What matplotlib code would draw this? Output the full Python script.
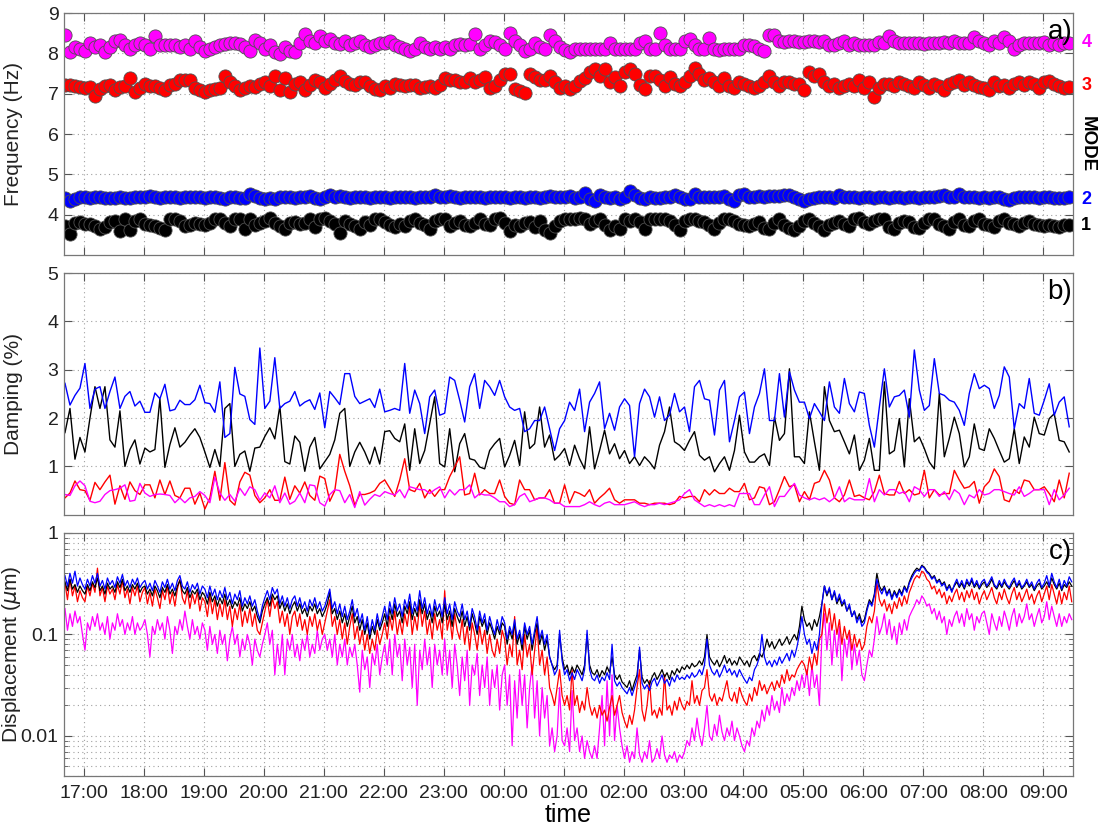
import matplotlib
matplotlib.use('Agg')
import matplotlib.pyplot as plt
import matplotlib.dates as mdates
import matplotlib.ticker as mticker
import pandas as pd

plt.rcParams['font.family'] = ['Liberation Sans', 'DejaVu Sans']
plt.rcParams['mathtext.fontset'] = 'dejavusans'

# modal estimates every 5 minutes (16:41 -> 09:26), displacement every 2.5 minutes
times = pd.date_range('2013-01-01 16:41', periods=202, freq='5min').to_pydatetime()
times_c = pd.date_range('2013-01-01 16:41', periods=404, freq='150s').to_pydatetime()
t_start = pd.Timestamp('2013-01-01 16:40').to_pydatetime()
t_end = pd.Timestamp('2013-01-02 09:30').to_pydatetime()

mode_colors = ['#000000', '#0000ff', '#ff0000', '#ff00ff']
mode_names = ['1', '2', '3', '4']

# --- a) frequency (Hz) ---
freq_1 = [3.72, 3.51, 3.8, 3.82, 3.78, 3.78, 3.72, 3.65, 3.7, 3.82, 3.85, 3.6, 3.88, 3.62, 3.85, 3.9,
          3.78, 3.75, 3.72, 3.68, 3.62, 3.88, 3.9, 3.85, 3.72, 3.75, 3.8, 3.78, 3.75, 3.8, 3.88, 3.9,
          3.8, 3.72, 3.88, 3.9, 3.65, 3.88, 3.75, 3.8, 3.85, 3.92, 3.8, 3.72, 3.65, 3.8, 3.82, 3.78,
          3.8, 3.9, 3.7, 3.88, 3.92, 3.85, 3.78, 3.55, 3.85, 3.78, 3.72, 3.65, 3.82, 3.75, 3.88, 3.9,
          3.82, 3.75, 3.7, 3.78, 3.72, 3.85, 3.88, 3.8, 3.75, 3.65, 3.85, 3.9,
          3.88, 3.72, 3.8, 3.85, 3.75, 3.72, 3.8, 3.88, 3.78, 3.75, 3.9, 3.92,
          3.8, 3.6, 3.75, 3.72, 3.8, 3.82, 3.7, 3.85, 3.62, 3.55, 3.72, 3.85,
          3.9, 3.88, 3.9, 3.92, 3.88, 3.78, 3.85, 3.9, 3.75, 3.62, 3.72, 3.65,
          3.9, 3.85, 3.88, 3.82, 3.65, 3.88, 3.9, 3.88, 3.9, 3.85, 3.75, 3.62,
          3.85, 3.88, 3.88, 3.85, 3.82, 3.75, 3.65, 3.8, 3.88, 3.9, 3.85, 3.78, 3.75, 3.72,
          3.78, 3.82, 3.68, 3.65, 3.8, 3.88, 3.75, 3.68, 3.62, 3.72, 3.85, 3.9,
          3.8, 3.72, 3.62, 3.75, 3.8, 3.85, 3.78, 3.72, 3.88, 3.92, 3.82, 3.78,
          3.85, 3.9, 3.88, 3.7, 3.65, 3.8, 3.85, 3.82, 3.7, 3.68, 3.8, 3.88,
          3.9, 3.78, 3.72, 3.65, 3.82, 3.88, 3.75, 3.72, 3.85, 3.88, 3.78, 3.75,
          3.7, 3.85, 3.88, 3.8, 3.78, 3.72, 3.8, 3.85, 3.78, 3.75, 3.72, 3.75, 3.72, 3.7, 3.75, 3.75]
freq_2 = [4.42, 4.35, 4.4, 4.43, 4.44, 4.42, 4.43, 4.44, 4.42, 4.42, 4.41, 4.43, 4.42, 4.42, 4.44, 4.43,
          4.44, 4.46, 4.43, 4.42, 4.44, 4.45, 4.43, 4.42, 4.44, 4.45, 4.43, 4.44, 4.42, 4.43, 4.44, 4.42,
          4.4, 4.43, 4.44, 4.42, 4.41, 4.5, 4.46, 4.42, 4.38, 4.42, 4.38, 4.43, 4.44, 4.43, 4.42, 4.44,
          4.45, 4.46, 4.42, 4.38, 4.43, 4.48, 4.45, 4.46, 4.44, 4.42, 4.44, 4.45, 4.43, 4.42, 4.44, 4.43,
          4.43, 4.42, 4.44, 4.43, 4.45, 4.43, 4.42, 4.44, 4.43, 4.45, 4.48, 4.44,
          4.43, 4.46, 4.44, 4.42, 4.44, 4.43, 4.45, 4.44, 4.42, 4.43, 4.44, 4.45,
          4.44, 4.42, 4.43, 4.44, 4.42, 4.43, 4.44, 4.42, 4.43, 4.46, 4.44, 4.45,
          4.43, 4.47, 4.42, 4.44, 4.53, 4.4, 4.35, 4.48, 4.45, 4.42, 4.44, 4.38,
          4.45, 4.58, 4.48, 4.42, 4.38, 4.43, 4.42, 4.41, 4.44, 4.43, 4.48, 4.45,
          4.4, 4.38, 4.52, 4.45, 4.43, 4.44, 4.43, 4.45, 4.46, 4.38, 4.35, 4.48, 4.5, 4.45,
          4.44, 4.46, 4.45, 4.47, 4.46, 4.47, 4.48, 4.48, 4.45, 4.38, 4.35, 4.4,
          4.42, 4.43, 4.45, 4.44, 4.42, 4.48, 4.44, 4.43, 4.44, 4.42, 4.43, 4.44,
          4.42, 4.43, 4.44, 4.42, 4.43, 4.44, 4.42, 4.43, 4.44, 4.42, 4.45, 4.44,
          4.43, 4.46, 4.48, 4.44, 4.43, 4.5, 4.45, 4.44, 4.43, 4.42, 4.44, 4.42,
          4.43, 4.45, 4.4, 4.36, 4.42, 4.44, 4.45, 4.43, 4.44, 4.42, 4.43, 4.44, 4.42, 4.42, 4.42, 4.43]
freq_3 = [7.22, 7.22, 7.2, 7.18, 7.15, 7.18, 6.95, 7.12, 7.2, 7.22, 7.1, 7.18,
          7.2, 7.38, 7.05, 7.15, 7.25, 7.2, 7.2, 7.15, 7.1, 7.22, 7.25, 7.33,
          7.35, 7.33, 7.15, 7.1, 7.05, 7.1, 7.12, 7.15, 7.45, 7.3, 7.2, 7.1,
          7.15, 7.2, 7.18, 7.25, 7.28, 7.2, 7.45, 7.1, 7.38, 7.05, 7.25, 7.3,
          7.1, 7.22, 7.35, 7.3, 7.15, 7.25, 7.35, 7.43, 7.32, 7.25, 7.22, 7.28,
          7.3, 7.2, 7.12, 7.1,
          7.2, 7.15, 7.25, 7.22, 7.2, 7.22, 7.22, 7.15, 7.18, 7.2, 7.15, 7.22,
          7.4, 7.35, 7.33, 7.28, 7.3, 7.4, 7.3, 7.35, 7.42, 7.15, 7.2, 7.33,
          7.48, 7.5, 7.12, 7.08, 7.02, 7.48, 7.42, 7.35, 7.33, 7.45, 7.3, 7.15,
          7.2, 7.12, 7.2, 7.32, 7.4, 7.55, 7.62, 7.45, 7.62, 7.3, 7.42, 7.2,
          7.55, 7.62, 7.5, 7.22, 7.12, 7.45, 7.45, 7.35, 7.2, 7.42, 7.25, 7.2,
          7.3, 7.45, 7.65, 7.48, 7.35, 7.4, 7.3, 7.2, 7.38, 7.2, 7.15, 7.28, 7.25, 7.2,
          7.15, 7.2, 7.3, 7.45, 7.3, 7.2, 7.3, 7.28, 7.25, 7.25, 7.1, 7.55,
          7.45, 7.5, 7.3, 7.2, 7.25, 7.15, 7.2, 7.25, 7.2, 7.35, 7.15, 7.28,
          6.93, 7.15, 7.25, 7.25, 7.2, 7.3, 7.25, 7.2, 7.15, 7.3, 7.22, 7.15,
          7.25, 7.2, 7.1, 7.25, 7.3, 7.35, 7.22, 7.28, 7.22, 7.18, 7.15, 7.1,
          7.3, 7.2, 7.22, 7.15, 7.25, 7.3, 7.22, 7.3, 7.25, 7.15, 7.3, 7.32, 7.25, 7.2, 7.15, 7.18]
freq_4 = [8.46, 8.03, 8.15, 8.1, 8.06, 8.25, 8.15, 8.2, 8.03, 8.15, 8.3, 8.33, 8.22, 8.1, 8.2, 8.27,
          8.22, 8.1, 8.44, 8.2, 8.2, 8.22, 8.22, 8.15, 8.22, 8.1, 8.3, 8.15, 8.07, 8.1, 8.15, 8.2,
          8.24, 8.25, 8.25, 8.24, 8.15, 8.07, 8.33, 8.27, 8.1, 8.2, 8.03, 7.99, 8.15, 8.07, 8.03, 8.27,
          8.48, 8.32, 8.27, 8.44, 8.32, 8.35, 8.27, 8.24, 8.3, 8.22, 8.25, 8.3, 8.2, 8.15, 8.2, 8.25,
          8.27, 8.3, 8.2, 8.15, 8.1, 8.05, 8.12, 8.27, 8.15, 8.1, 8.17, 8.12,
          8.15, 8.1, 8.22, 8.24, 8.2, 8.24, 8.48, 8.1, 8.22, 8.3, 8.28, 8.2,
          8.1, 8.5, 8.32, 8.2, 8.05, 8.12, 8.25, 8.15, 8.1, 8.45, 8.3, 8.15,
          8.08, 8.03, 8.12, 8.12, 8.12, 8.1, 8.12, 8.12, 8.1, 8.25, 8.12, 8.1,
          8.12, 8.1, 8.12, 8.25, 8.3, 8.1, 8.12, 8.5, 8.2, 8.1, 8.12, 8.1,
          8.3, 8.35, 8.2, 8.1, 8.12, 8.38, 8.12, 8.08, 8.12, 8.12, 8.12, 8.12, 8.22, 8.2,
          8.18, 8.1, 8.07, 8.45, 8.45, 8.3, 8.28, 8.3, 8.3, 8.28, 8.28, 8.3,
          8.3, 8.28, 8.3, 8.22, 8.2, 8.25, 8.3, 8.2, 8.27, 8.22, 8.2, 8.22,
          8.22, 8.28, 8.25, 8.44, 8.3, 8.25, 8.25, 8.27, 8.25, 8.25, 8.24, 8.27,
          8.25, 8.25, 8.28, 8.25, 8.3, 8.27, 8.25, 8.25, 8.42, 8.3, 8.25, 8.22,
          8.3, 8.25, 8.4, 8.3, 8.1, 8.22, 8.25, 8.27, 8.25, 8.25, 8.28, 8.22, 8.27, 8.22, 8.27, 8.25]

# --- b) damping (%) ---
damp_1 = [1.7, 2.2, 1.15, 1.6, 1.3, 2.0, 2.65, 2.2, 2.65, 1.55, 1.4, 2.15, 1.0, 1.35, 1.55, 1.05,
          1.38, 1.3, 1.35, 2.4, 0.98, 1.45, 1.8, 1.4, 1.5, 1.65, 1.78, 1.6, 1.3, 0.98, 1.35, 1.0,
          2.2, 2.3, 1.0, 1.25, 1.32, 0.9, 1.38, 1.4, 1.62, 1.8, 1.57, 2.25, 1.1, 1.05, 1.63, 1.5,
          0.9, 1.4, 1.6, 0.95, 1.1, 1.25, 1.55, 2.1, 2.2, 1.0, 1.3, 1.5, 1.3, 1.05, 1.4, 1.05,
          1.72, 1.74, 1.58, 1.51, 1.88, 0.92, 1.78, 1.06, 1.33, 1.88, 2.44, 1.06, 0.99, 1.78, 0.89,
          1.47, 1.68, 1.16, 1.13, 0.99, 0.95, 1.33, 1.47, 1.58, 0.99, 1.23, 1.54, 1.02, 2.13, 1.37,
          1.47, 2.23, 1.4, 1.65, 1.13, 1.23, 1.37, 1.02, 1.44, 1.16, 0.95, 1.82, 0.95, 1.33, 1.75,
          1.26, 1.47, 1.16, 1.33, 1.06, 1.2, 1.02, 1.2, 1.09, 0.95, 1.44, 1.72, 2.23, 1.51, 1.44,
          1.33, 1.54, 1.72, 1.23, 1.13, 1.2, 0.89, 1.06, 1.2, 0.92, 1.33, 2.06, 1.3, 1.09,
          1.09, 1.2, 1.26, 1.02, 2.02, 1.54, 1.68, 3.02, 1.2, 1.2, 1.06, 2.13, 1.51, 0.92, 2.65,
          1.95, 1.72, 1.75, 1.51, 1.26, 1.65, 0.92, 1.13, 1.58, 0.92, 0.92, 2.75, 1.26, 1.33, 1.99,
          0.99, 2.4, 1.51, 1.61, 1.37, 1.09, 0.95, 2.51, 1.2, 1.58, 2.02, 1.68, 0.99, 1.2, 1.88,
          1.37, 1.33, 1.78, 1.58, 1.33, 1.09, 1.16, 1.78, 1.06, 1.61, 1.4, 2.02, 1.68, 1.65, 1.99,
          2.09, 1.54, 1.51, 1.3]
damp_2 = [2.72, 2.27, 2.47, 2.62, 3.13, 2.2, 2.6, 2.65, 2.2, 2.55, 2.85, 2.2, 2.45, 2.55, 2.25, 2.35,
          2.12, 2.12, 2.52, 2.4, 2.7, 2.15, 2.18, 2.37, 2.28, 2.28, 2.38, 2.68, 2.32, 2.3, 2.12, 2.75,
          1.6, 1.68, 3.05, 2.5, 2.45, 1.97, 1.87, 3.45, 2.2, 2.35, 3.25, 2.2, 2.3, 2.35, 2.55, 2.25,
          2.33, 2.38, 2.18, 2.52, 1.8, 2.55, 2.42, 2.28, 2.92, 2.92, 2.45, 2.3, 2.35, 2.4, 2.22, 2.6,
          2.13, 2.16, 2.2, 2.16, 3.13, 2.1, 2.58, 2.3, 1.68, 2.44, 2.58, 2.06, 2.1, 2.85, 2.78,
          2.37, 1.92, 2.65, 2.92, 2.2, 2.78, 2.65, 2.47, 2.78, 2.44, 2.23, 2.16, 2.2, 1.72, 1.78,
          1.95, 1.95, 2.23, 1.78, 1.33, 1.78, 1.95, 2.33, 2.16, 2.6, 1.72, 2.33, 2.51, 2.75, 1.78,
          2.1, 1.75, 2.23, 2.4, 2.26, 1.2, 2.3, 2.6, 2.44, 2.02, 2.44, 1.95, 2.06, 2.51, 2.13,
          2.23, 1.72, 2.65, 2.78, 2.4, 2.37, 1.65, 2.58, 2.78, 1.51, 1.95, 2.44, 2.54, 1.68,
          2.23, 2.51, 3.02, 1.95, 1.95, 2.92, 2.02, 2.96, 2.58, 2.33, 2.33, 1.99, 2.3, 2.13, 1.95,
          2.75, 2.23, 2.1, 2.82, 2.3, 2.13, 2.54, 2.51, 1.85, 1.4, 2.23, 3.02, 2.23, 2.44, 2.47,
          2.58, 2.02, 3.41, 2.58, 2.16, 2.26, 3.23, 2.51, 2.47, 2.37, 2.33, 2.16, 1.85, 2.51, 2.92,
          2.61, 2.68, 2.61, 2.2, 2.47, 3.06, 2.85, 1.78, 2.3, 2.2, 2.82, 2.1, 2.06, 2.37, 2.71,
          2.06, 2.33, 2.44, 1.82]
damp_3 = [0.35, 0.45, 0.7, 0.52, 0.5, 0.3, 0.67, 0.52, 0.68, 0.82, 0.22, 0.6, 0.32, 0.68, 0.5, 0.42,
          0.62, 0.62, 0.35, 0.72, 0.42, 0.7, 0.4, 0.35, 0.55, 0.55, 0.22, 0.45, 0.12, 0.35, 0.9, 0.3,
          1.08, 0.3, 0.2, 0.68, 0.88, 0.82, 0.4, 0.25, 0.35, 0.52, 0.3, 0.3, 0.78, 0.32, 0.6, 0.45,
          0.68, 0.4, 0.3, 0.8, 0.75, 0.28, 0.5, 1.25, 0.9, 0.6, 0.2, 0.42, 0.42, 0.45, 0.5, 0.65,
          0.72, 0.55, 0.38, 0.72, 1.16, 0.52, 0.48, 0.65, 0.35, 0.52, 0.38, 0.52, 0.52, 0.79, 0.99,
          1.2, 0.41, 0.44, 0.86, 0.41, 0.52, 0.44, 0.44, 0.72, 0.38, 0.24, 0.21, 0.72, 0.52, 0.52,
          0.31, 0.35, 0.35, 0.52, 0.24, 0.24, 0.62, 0.24, 0.48, 0.44, 0.38, 0.52, 0.24, 0.35, 0.44,
          0.55, 0.31, 0.24, 0.31, 0.31, 0.31, 0.24, 0.24, 0.21, 0.24, 0.24, 0.24, 0.21, 0.24, 0.38,
          0.35, 0.38, 0.38, 0.27, 0.52, 0.41, 0.52, 0.44, 0.44, 0.55, 0.48, 0.48, 0.65, 0.31,
          0.35, 0.58, 0.55, 0.21, 0.27, 0.52, 0.79, 0.58, 0.62, 0.27, 0.48, 0.31, 0.65, 0.69, 0.92,
          0.72, 0.35, 0.27, 0.41, 0.72, 0.38, 0.41, 0.35, 0.31, 0.48, 0.82, 0.44, 0.41, 0.41, 0.69,
          0.44, 0.52, 0.41, 0.44, 0.92, 0.35, 0.52, 0.41, 0.44, 0.44, 0.92, 0.72, 0.55, 0.58, 0.69,
          0.24, 0.58, 0.69, 0.95, 0.79, 0.31, 0.27, 0.52, 0.44, 0.72, 0.69, 0.52, 0.52, 0.58, 0.44,
          0.27, 0.72, 0.35, 0.86]
damp_4 = [0.42, 0.4, 0.6, 0.7, 0.6, 0.28, 0.25, 0.28, 0.42, 0.5, 0.52, 0.55, 0.62, 0.28, 0.3, 0.65,
          0.45, 0.38, 0.42, 0.43, 0.42, 0.4, 0.25, 0.35, 0.25, 0.35, 0.38, 0.48, 0.4, 0.25, 0.78, 0.45,
          0.3, 0.42, 0.28, 0.55, 0.4, 0.58, 0.52, 0.3, 0.45, 0.35, 0.6, 0.25, 0.45, 0.22, 0.28, 0.45,
          0.25, 0.62, 0.6, 0.25, 0.18, 0.42, 0.52, 0.5, 0.25, 0.42, 0.15, 0.48, 0.2, 0.32, 0.42, 0.38,
          0.48, 0.44, 0.41, 0.52, 0.35, 0.58, 0.55, 0.52, 0.52, 0.44, 0.52, 0.58, 0.35, 0.52, 0.41,
          0.52, 0.52, 0.62, 0.35, 0.44, 0.41, 0.41, 0.35, 0.27, 0.27, 0.17, 0.21, 0.38, 0.44, 0.27,
          0.31, 0.35, 0.35, 0.31, 0.24, 0.24, 0.17, 0.17, 0.17, 0.17, 0.21, 0.27, 0.21, 0.17, 0.24,
          0.27, 0.21, 0.21, 0.21, 0.24, 0.27, 0.21, 0.17, 0.21, 0.21, 0.24, 0.21, 0.24, 0.27, 0.31,
          0.44, 0.52, 0.31, 0.24, 0.17, 0.21, 0.17, 0.21, 0.17, 0.21, 0.17, 0.44, 0.44, 0.44,
          0.21, 0.21, 0.41, 0.58, 0.17, 0.38, 0.38, 0.52, 0.65, 0.41, 0.35, 0.31, 0.35, 0.31, 0.35,
          0.27, 0.35, 0.58, 0.27, 0.35, 0.31, 0.31, 0.31, 0.75, 0.27, 0.52, 0.41, 0.52, 0.52, 0.44,
          0.48, 0.27, 0.58, 0.52, 0.38, 0.52, 0.52, 0.38, 0.48, 0.31, 0.52, 0.44, 0.21, 0.41, 0.35,
          0.52, 0.41, 0.44, 0.52, 0.52, 0.48, 0.44, 0.41, 0.58, 0.38, 0.44, 0.52, 0.52, 0.52, 0.21,
          0.52, 0.31, 0.41, 0.55]

# --- c) displacement (um), one row per clock hour (first row: 16:41-16:58) ---
disp_1 = [0.33, 0.27, 0.35, 0.28, 0.31, 0.26, 0.3, 0.27,
          0.25, 0.31, 0.27, 0.33, 0.29, 0.36, 0.27, 0.3, 0.25, 0.32, 0.28, 0.3, 0.26, 0.33, 0.29, 0.35, 0.27, 0.3, 0.26, 0.31, 0.28, 0.32, 0.26, 0.29,
          0.3, 0.25, 0.28, 0.24, 0.3, 0.27, 0.23, 0.29, 0.26, 0.31, 0.25, 0.28, 0.24, 0.3, 0.34, 0.27, 0.25, 0.29, 0.23, 0.27, 0.25, 0.28, 0.22, 0.26,
          0.24, 0.2, 0.26, 0.21, 0.24, 0.19, 0.23, 0.2, 0.25, 0.19, 0.22, 0.18, 0.21, 0.19, 0.23, 0.17, 0.2, 0.18, 0.21, 0.17, 0.19, 0.15, 0.13, 0.17,
          0.2, 0.23, 0.19, 0.25, 0.22, 0.24, 0.18, 0.21, 0.17, 0.2, 0.16, 0.19, 0.21, 0.17, 0.2, 0.16, 0.18, 0.15, 0.19, 0.17, 0.2, 0.16, 0.18, 0.15,
          0.17, 0.2, 0.26, 0.16, 0.18, 0.14, 0.17, 0.13, 0.16, 0.12, 0.15, 0.19, 0.13, 0.15, 0.11, 0.14, 0.1, 0.13, 0.09, 0.12, 0.1, 0.14, 0.11, 0.13,
          0.16, 0.12, 0.18, 0.14, 0.2, 0.15, 0.17, 0.13, 0.19, 0.16, 0.21, 0.14, 0.18, 0.15, 0.22, 0.16, 0.2, 0.14, 0.17, 0.13, 0.19, 0.15, 0.17, 0.13,
          0.2, 0.14, 0.17, 0.12, 0.18, 0.15, 0.13, 0.17, 0.12, 0.15, 0.11, 0.16, 0.13, 0.1, 0.15, 0.12, 0.14, 0.1, 0.13, 0.11, 0.09, 0.12, 0.1, 0.13,
          0.12, 0.08, 0.11, 0.09, 0.13, 0.08, 0.1, 0.07, 0.12, 0.09, 0.11, 0.07, 0.1, 0.13, 0.08, 0.1, 0.07, 0.09, 0.06, 0.05, 0.045, 0.05, 0.1, 0.06,
          0.045, 0.05, 0.04, 0.048, 0.042, 0.05, 0.045, 0.04, 0.05, 0.1, 0.05, 0.042, 0.04, 0.045, 0.038, 0.044, 0.04, 0.048, 0.042, 0.06, 0.04, 0.036, 0.04, 0.034,
          0.032, 0.03, 0.035, 0.028, 0.034, 0.04, 0.07, 0.038, 0.033, 0.036, 0.032, 0.038, 0.042, 0.036, 0.04, 0.045, 0.038, 0.042, 0.036, 0.044, 0.04, 0.046, 0.042, 0.048,
          0.045, 0.05, 0.046, 0.052, 0.048, 0.05, 0.055, 0.05, 0.06, 0.1, 0.06, 0.054, 0.05, 0.056, 0.048, 0.054, 0.062, 0.052, 0.058, 0.05, 0.055, 0.05, 0.06, 0.055,
          0.05, 0.055, 0.048, 0.058, 0.062, 0.055, 0.065, 0.06, 0.07, 0.09, 0.075, 0.085, 0.072, 0.08, 0.09, 0.078, 0.085, 0.095, 0.08, 0.09, 0.1, 0.088, 0.12, 0.19,
          0.14, 0.12, 0.13, 0.11, 0.14, 0.12, 0.15, 0.2, 0.3, 0.24, 0.28, 0.22, 0.26, 0.2, 0.23, 0.19, 0.21, 0.17, 0.19, 0.15, 0.17, 0.14, 0.16, 0.13,
          0.14, 0.18, 0.22, 0.2, 0.25, 0.4, 0.3, 0.27, 0.3, 0.25, 0.28, 0.23, 0.27, 0.24, 0.28, 0.25, 0.3, 0.27, 0.33, 0.38, 0.42, 0.45, 0.43, 0.48,
          0.46, 0.42, 0.4, 0.36, 0.38, 0.33, 0.35, 0.31, 0.33, 0.28, 0.31, 0.27, 0.3, 0.33, 0.29, 0.32, 0.28, 0.33, 0.3, 0.34, 0.29, 0.32, 0.28, 0.31,
          0.33, 0.29, 0.31, 0.35, 0.3, 0.28, 0.32, 0.29, 0.33, 0.3, 0.28, 0.31, 0.34, 0.29, 0.32, 0.28, 0.3, 0.33, 0.29, 0.31, 0.27, 0.3, 0.32, 0.28,
          0.3, 0.33, 0.29, 0.36, 0.31, 0.28, 0.32, 0.27, 0.31, 0.29, 0.33, 0.3]
disp_2 = [0.38, 0.3, 0.4, 0.32, 0.42, 0.3, 0.36, 0.31,
          0.28, 0.35, 0.3, 0.38, 0.32, 0.4, 0.3, 0.34, 0.28, 0.36, 0.31, 0.34, 0.29, 0.37, 0.32, 0.39, 0.3, 0.34, 0.29, 0.35, 0.31, 0.36, 0.29, 0.32,
          0.34, 0.28, 0.32, 0.27, 0.34, 0.3, 0.26, 0.33, 0.29, 0.35, 0.28, 0.32, 0.27, 0.34, 0.38, 0.3, 0.28, 0.33, 0.26, 0.31, 0.28, 0.32, 0.25, 0.3,
          0.28, 0.23, 0.3, 0.24, 0.28, 0.22, 0.27, 0.23, 0.29, 0.22, 0.26, 0.2, 0.25, 0.22, 0.27, 0.19, 0.23, 0.2, 0.24, 0.19, 0.22, 0.17, 0.14, 0.19,
          0.23, 0.27, 0.22, 0.29, 0.25, 0.28, 0.2, 0.24, 0.19, 0.23, 0.18, 0.22, 0.24, 0.19, 0.23, 0.18, 0.21, 0.17, 0.22, 0.19, 0.23, 0.18, 0.21, 0.17,
          0.19, 0.23, 0.28, 0.18, 0.21, 0.16, 0.2, 0.15, 0.19, 0.14, 0.17, 0.22, 0.15, 0.18, 0.13, 0.16, 0.11, 0.15, 0.1, 0.14, 0.11, 0.16, 0.12, 0.15,
          0.19, 0.14, 0.21, 0.16, 0.23, 0.17, 0.2, 0.15, 0.22, 0.18, 0.25, 0.16, 0.21, 0.17, 0.27, 0.18, 0.23, 0.16, 0.2, 0.15, 0.22, 0.17, 0.2, 0.15,
          0.23, 0.16, 0.2, 0.14, 0.21, 0.17, 0.15, 0.2, 0.14, 0.17, 0.12, 0.18, 0.15, 0.11, 0.17, 0.13, 0.16, 0.11, 0.15, 0.12, 0.1, 0.14, 0.11, 0.15,
          0.13, 0.09, 0.12, 0.1, 0.14, 0.09, 0.11, 0.08, 0.13, 0.1, 0.12, 0.08, 0.11, 0.15, 0.09, 0.11, 0.08, 0.1, 0.06, 0.05, 0.04, 0.045, 0.11, 0.055,
          0.04, 0.045, 0.035, 0.042, 0.036, 0.045, 0.04, 0.035, 0.045, 0.11, 0.045, 0.037, 0.035, 0.04, 0.033, 0.038, 0.035, 0.042, 0.036, 0.08, 0.035, 0.031, 0.034, 0.03,
          0.028, 0.026, 0.03, 0.025, 0.03, 0.036, 0.075, 0.033, 0.029, 0.032, 0.028, 0.034, 0.037, 0.031, 0.035, 0.04, 0.033, 0.036, 0.031, 0.038, 0.034, 0.04, 0.036, 0.038,
          0.036, 0.04, 0.037, 0.042, 0.038, 0.04, 0.045, 0.04, 0.05, 0.09, 0.05, 0.043, 0.04, 0.045, 0.038, 0.043, 0.05, 0.042, 0.046, 0.04, 0.044, 0.038, 0.045, 0.04,
          0.036, 0.033, 0.038, 0.035, 0.045, 0.05, 0.06, 0.1, 0.06, 0.05, 0.055, 0.048, 0.056, 0.05, 0.06, 0.052, 0.058, 0.065, 0.055, 0.07, 0.06, 0.075, 0.1, 0.15,
          0.1, 0.08, 0.09, 0.065, 0.085, 0.07, 0.1, 0.2, 0.3, 0.25, 0.29, 0.22, 0.27, 0.21, 0.25, 0.2, 0.22, 0.17, 0.2, 0.15, 0.17, 0.13, 0.15, 0.12,
          0.13, 0.17, 0.21, 0.19, 0.24, 0.35, 0.28, 0.25, 0.29, 0.24, 0.27, 0.22, 0.26, 0.23, 0.27, 0.24, 0.29, 0.26, 0.32, 0.36, 0.4, 0.43, 0.42, 0.47,
          0.45, 0.41, 0.39, 0.35, 0.37, 0.32, 0.34, 0.3, 0.32, 0.27, 0.3, 0.26, 0.31, 0.35, 0.3, 0.34, 0.29, 0.35, 0.31, 0.36, 0.3, 0.34, 0.29, 0.33,
          0.35, 0.3, 0.33, 0.37, 0.31, 0.29, 0.34, 0.3, 0.35, 0.31, 0.29, 0.33, 0.36, 0.3, 0.34, 0.29, 0.31, 0.35, 0.3, 0.33, 0.28, 0.32, 0.35, 0.29,
          0.32, 0.38, 0.3, 0.4, 0.33, 0.29, 0.35, 0.28, 0.34, 0.3, 0.37, 0.33]
disp_3 = [0.32, 0.22, 0.35, 0.24, 0.3, 0.21, 0.27, 0.23,
          0.21, 0.3, 0.24, 0.32, 0.26, 0.45, 0.24, 0.29, 0.21, 0.3, 0.25, 0.28, 0.22, 0.31, 0.25, 0.34, 0.23, 0.28, 0.2, 0.29, 0.24, 0.3, 0.21, 0.26,
          0.29, 0.2, 0.26, 0.19, 0.28, 0.23, 0.18, 0.27, 0.22, 0.3, 0.2, 0.26, 0.19, 0.28, 0.35, 0.23, 0.2, 0.27, 0.18, 0.25, 0.2, 0.26, 0.17, 0.23,
          0.21, 0.15, 0.24, 0.16, 0.22, 0.14, 0.2, 0.15, 0.22, 0.14, 0.19, 0.12, 0.18, 0.14, 0.2, 0.12, 0.17, 0.13, 0.18, 0.12, 0.16, 0.11, 0.1, 0.13,
          0.17, 0.22, 0.15, 0.23, 0.18, 0.21, 0.13, 0.17, 0.12, 0.16, 0.1, 0.15, 0.17, 0.12, 0.16, 0.11, 0.14, 0.1, 0.15, 0.12, 0.16, 0.11, 0.14, 0.1,
          0.13, 0.17, 0.22, 0.12, 0.15, 0.1, 0.14, 0.09, 0.13, 0.08, 0.12, 0.16, 0.09, 0.12, 0.08, 0.11, 0.07, 0.1, 0.065, 0.09, 0.07, 0.11, 0.08, 0.1,
          0.13, 0.09, 0.15, 0.11, 0.17, 0.1, 0.14, 0.1, 0.16, 0.12, 0.19, 0.1, 0.15, 0.11, 0.2, 0.12, 0.17, 0.1, 0.14, 0.09, 0.16, 0.11, 0.14, 0.09,
          0.27, 0.11, 0.15, 0.09, 0.16, 0.11, 0.09, 0.14, 0.08, 0.12, 0.07, 0.13, 0.1, 0.07, 0.12, 0.08, 0.11, 0.065, 0.1, 0.07, 0.06, 0.09, 0.065, 0.11,
          0.09, 0.05, 0.08, 0.06, 0.15, 0.05, 0.07, 0.045, 0.1, 0.06, 0.08, 0.04, 0.07, 0.12, 0.05, 0.07, 0.04, 0.06, 0.03, 0.025, 0.02, 0.03, 0.045, 0.025,
          0.02, 0.025, 0.018, 0.045, 0.02, 0.025, 0.017, 0.022, 0.018, 0.03, 0.02, 0.016, 0.019, 0.015, 0.02, 0.016, 0.018, 0.014, 0.019, 0.025, 0.016, 0.02, 0.025, 0.017,
          0.014, 0.012, 0.016, 0.013, 0.018, 0.03, 0.045, 0.018, 0.014, 0.02, 0.035, 0.016, 0.018, 0.015, 0.019, 0.016, 0.04, 0.018, 0.02, 0.016, 0.022, 0.018, 0.024, 0.02,
          0.018, 0.022, 0.02, 0.035, 0.021, 0.025, 0.02, 0.028, 0.03, 0.045, 0.025, 0.022, 0.026, 0.02, 0.024, 0.022, 0.028, 0.035, 0.024, 0.022, 0.027, 0.021, 0.03, 0.025,
          0.022, 0.02, 0.026, 0.022, 0.03, 0.025, 0.035, 0.028, 0.032, 0.026, 0.03, 0.034, 0.028, 0.035, 0.03, 0.04, 0.033, 0.045, 0.035, 0.04, 0.038, 0.045, 0.05, 0.055,
          0.05, 0.04, 0.06, 0.045, 0.065, 0.05, 0.09, 0.1, 0.2, 0.13, 0.18, 0.11, 0.16, 0.1, 0.14, 0.08, 0.12, 0.09, 0.11, 0.07, 0.1, 0.075, 0.09, 0.07,
          0.08, 0.12, 0.15, 0.13, 0.17, 0.32, 0.22, 0.19, 0.22, 0.17, 0.2, 0.16, 0.21, 0.18, 0.23, 0.19, 0.24, 0.2, 0.26, 0.3, 0.35, 0.38, 0.36, 0.42,
          0.4, 0.35, 0.33, 0.28, 0.3, 0.25, 0.28, 0.23, 0.26, 0.2, 0.24, 0.21, 0.25, 0.28, 0.22, 0.26, 0.21, 0.27, 0.23, 0.28, 0.22, 0.26, 0.2, 0.24,
          0.27, 0.22, 0.25, 0.29, 0.23, 0.2, 0.26, 0.22, 0.28, 0.23, 0.2, 0.25, 0.29, 0.22, 0.26, 0.21, 0.24, 0.28, 0.22, 0.25, 0.2, 0.24, 0.27, 0.21,
          0.25, 0.3, 0.22, 0.31, 0.25, 0.2, 0.27, 0.2, 0.26, 0.22, 0.3, 0.21]
disp_4 = [0.18, 0.11, 0.16, 0.12, 0.17, 0.13, 0.15, 0.1,
          0.07, 0.13, 0.11, 0.15, 0.12, 0.16, 0.11, 0.13, 0.1, 0.15, 0.09, 0.13, 0.11, 0.16, 0.12, 0.14, 0.1, 0.13, 0.11, 0.15, 0.1, 0.13, 0.11, 0.12,
          0.14, 0.1, 0.06, 0.12, 0.1, 0.14, 0.11, 0.13, 0.09, 0.15, 0.11, 0.065, 0.12, 0.1, 0.14, 0.11, 0.17, 0.12, 0.09, 0.14, 0.1, 0.12, 0.09, 0.13,
          0.11, 0.07, 0.12, 0.08, 0.1, 0.065, 0.11, 0.08, 0.1, 0.055, 0.09, 0.12, 0.08, 0.1, 0.06, 0.09, 0.07, 0.1, 0.08, 0.05, 0.09, 0.07, 0.06, 0.08,
          0.1, 0.13, 0.08, 0.11, 0.04, 0.08, 0.05, 0.1, 0.04, 0.09, 0.07, 0.1, 0.06, 0.08, 0.055, 0.09, 0.07, 0.1, 0.06, 0.08, 0.065, 0.11, 0.07, 0.09,
          0.1, 0.07, 0.09, 0.06, 0.1, 0.05, 0.08, 0.06, 0.09, 0.05, 0.075, 0.06, 0.08, 0.05, 0.027, 0.07, 0.045, 0.06, 0.03, 0.065, 0.05, 0.08, 0.04, 0.06,
          0.08, 0.05, 0.09, 0.04, 0.1, 0.06, 0.08, 0.035, 0.09, 0.05, 0.075, 0.03, 0.08, 0.02, 0.07, 0.045, 0.09, 0.05, 0.075, 0.03, 0.08, 0.05, 0.07, 0.04,
          0.09, 0.04, 0.07, 0.03, 0.08, 0.05, 0.025, 0.06, 0.035, 0.07, 0.02, 0.05, 0.04, 0.065, 0.025, 0.05, 0.03, 0.06, 0.02, 0.045, 0.03, 0.05, 0.018, 0.04,
          0.05, 0.02, 0.04, 0.008, 0.035, 0.015, 0.045, 0.02, 0.04, 0.012, 0.03, 0.05, 0.015, 0.035, 0.01, 0.03, 0.015, 0.025, 0.008, 0.012, 0.007, 0.01, 0.03, 0.009,
          0.008, 0.012, 0.007, 0.028, 0.009, 0.012, 0.007, 0.01, 0.006, 0.009, 0.007, 0.006, 0.008, 0.006, 0.012, 0.025, 0.008, 0.035, 0.01, 0.04, 0.009, 0.02, 0.012, 0.008,
          0.006, 0.008, 0.0055, 0.007, 0.006, 0.012, 0.0065, 0.0055, 0.007, 0.006, 0.009, 0.0055, 0.006, 0.0075, 0.006, 0.01, 0.0065, 0.0055, 0.0065, 0.006, 0.007, 0.0055, 0.0065, 0.006,
          0.007, 0.009, 0.008, 0.012, 0.009, 0.015, 0.01, 0.008, 0.012, 0.02, 0.01, 0.009, 0.013, 0.01, 0.016, 0.011, 0.009, 0.012, 0.01, 0.014, 0.009, 0.012, 0.01, 0.008,
          0.007, 0.009, 0.008, 0.012, 0.01, 0.014, 0.012, 0.018, 0.014, 0.02, 0.016, 0.025, 0.018, 0.022, 0.017, 0.03, 0.02, 0.026, 0.022, 0.03, 0.025, 0.035, 0.028, 0.04,
          0.03, 0.045, 0.025, 0.05, 0.03, 0.04, 0.02, 0.1, 0.16, 0.07, 0.13, 0.05, 0.11, 0.06, 0.12, 0.035, 0.09, 0.06, 0.1, 0.045, 0.08, 0.05, 0.07, 0.04,
          0.035, 0.05, 0.07, 0.06, 0.09, 0.15, 0.1, 0.12, 0.16, 0.1, 0.14, 0.09, 0.12, 0.08, 0.13, 0.1, 0.14, 0.11, 0.15, 0.17, 0.19, 0.22, 0.2, 0.24,
          0.22, 0.19, 0.2, 0.16, 0.18, 0.14, 0.17, 0.13, 0.15, 0.1, 0.14, 0.12, 0.15, 0.17, 0.13, 0.16, 0.12, 0.18, 0.14, 0.16, 0.11, 0.15, 0.13, 0.16,
          0.17, 0.13, 0.1, 0.16, 0.13, 0.11, 0.15, 0.12, 0.17, 0.14, 0.11, 0.15, 0.18, 0.12, 0.16, 0.13, 0.15, 0.2, 0.14, 0.16, 0.12, 0.15, 0.18, 0.13,
          0.15, 0.21, 0.14, 0.19, 0.15, 0.12, 0.16, 0.12, 0.15, 0.13, 0.16, 0.14]

frequency = [freq_1, freq_2, freq_3, freq_4]
damping = [damp_1, damp_2, damp_3, damp_4]
displacement = [disp_1, disp_2, disp_3, disp_4]

fig = plt.figure(figsize=(11.03, 8.25), dpi=100)
ax_a = fig.add_axes([0.058, 0.691, 0.915, 0.293])
ax_b = fig.add_axes([0.058, 0.376, 0.915, 0.293])
ax_c = fig.add_axes([0.058, 0.059, 0.915, 0.295])

grid_kw = dict(color='#a0a0a0', linestyle=(0, (1, 3)), linewidth=0.8)


def style_axis(ax):
    ax.set_xlim(t_start, t_end)
    ax.xaxis.set_major_locator(mdates.HourLocator())
    ax.xaxis.set_major_formatter(mdates.DateFormatter('%H:%M'))
    ax.tick_params(direction='in', top=True, right=True, length=6, width=0.8,
                   labelsize=14, colors='#555555', labelcolor='#222222', pad=4)
    ax.tick_params(axis='x', pad=6)
    for s in ax.spines.values():
        s.set_color('#777777')
        s.set_linewidth(0.9)
    ax.grid(True, which='major', **grid_kw)
    ax.set_axisbelow(True)
    ax.yaxis.set_label_coords(-0.041, 0.5)


# a) frequency
for vals, col in zip(frequency, mode_colors):
    ax_a.plot(times[:len(vals)], vals, linestyle='none', marker='o', markersize=9.5,
              markerfacecolor=col, markeredgecolor='#505050', markeredgewidth=0.6)
style_axis(ax_a)
ax_a.set_ylim(3, 9)
ax_a.set_yticks([4, 5, 6, 7, 8, 9])
ax_a.tick_params(labelbottom=False)
ax_a.set_ylabel('Frequency (Hz)', fontsize=15, color='#222222')
ax_a.text(0.999, 0.975, 'a)', transform=ax_a.transAxes, ha='right', va='top', fontsize=20)
lbl_tr = ax_a.get_yaxis_transform()
for name, col, y in zip(mode_names, mode_colors, [3.72, 4.38, 7.2, 8.27]):
    ax_a.text(1.008, y, name, transform=lbl_tr, color=col, fontsize=13,
              fontweight='bold', ha='left', va='center')
ax_a.text(1.0135, 5.75, 'MODE', transform=lbl_tr, rotation=-90, fontsize=13.5,
          fontweight='bold', ha='center', va='center')

# b) damping
for vals, col in zip(damping, mode_colors):
    ax_b.plot(times[:len(vals)], vals, color=col, linewidth=1.0)
style_axis(ax_b)
ax_b.set_ylim(0, 5)
ax_b.set_yticks([1, 2, 3, 4, 5])
ax_b.tick_params(labelbottom=False)
ax_b.set_ylabel('Damping (%)', fontsize=15, color='#222222')
ax_b.text(0.999, 0.975, 'b)', transform=ax_b.transAxes, ha='right', va='top', fontsize=20)

# c) displacement
for idx in [3, 2, 0, 1]:
    vals = displacement[idx]
    ax_c.plot(times_c[:len(vals)], vals, color=mode_colors[idx], linewidth=0.9)
ax_c.set_yscale('log')
style_axis(ax_c)
ax_c.set_ylim(0.004, 1)
ax_c.yaxis.set_major_locator(mticker.FixedLocator([0.01, 0.1, 1]))
ax_c.yaxis.set_major_formatter(mticker.FixedFormatter(['0.01', '0.1', '1']))
ax_c.yaxis.set_minor_locator(mticker.LogLocator(base=10, subs=range(2, 10)))
ax_c.yaxis.set_minor_formatter(mticker.NullFormatter())
ax_c.tick_params(axis='y', which='minor', direction='in', length=3, right=True,
                 colors='#555555')
ax_c.grid(True, which='minor', axis='y', **grid_kw)
ax_c.set_ylabel(r'Displacement ($\mu$m)', fontsize=15, color='#222222')
ax_c.set_xlabel('time', fontsize=18, labelpad=1)
ax_c.text(0.999, 0.975, 'c)', transform=ax_c.transAxes, ha='right', va='top', fontsize=20)

fig.savefig('out.png', dpi=100)
